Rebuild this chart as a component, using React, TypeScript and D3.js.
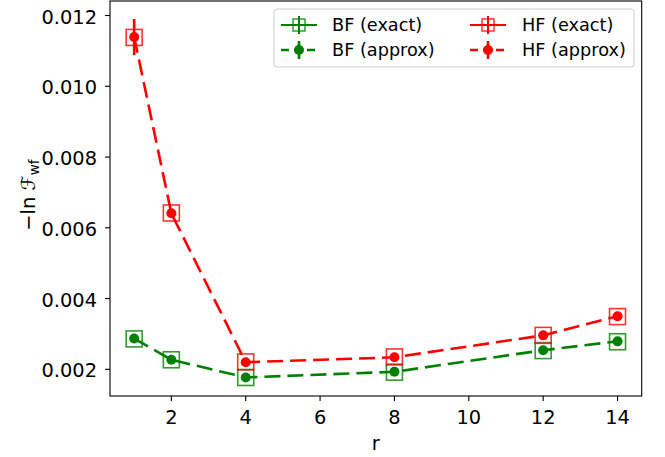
import React from "react";
import * as d3 from "d3";

const rValues = [1, 2, 4, 8, 12, 14];
const bfExact = [0.00286, 0.00227, 0.00177, 0.00192, 0.00253, 0.00278];
const bfExactErr = [0.00003, 0.00003, 0.00002, 0.00002, 0.00003, 0.00003];
const bfApprox = [0.00287, 0.00227, 0.00177, 0.00193, 0.00254, 0.00279];
const bfApproxErr = [0.00004, 0.00003, 0.00002, 0.00002, 0.00003, 0.00003];
const hfExact = [0.01138, 0.00642, 0.00221, 0.00235, 0.00296, 0.00349];
const hfExactErr = [0.00003, 0.00003, 0.00002, 0.00002, 0.00003, 0.00003];
const hfApprox = [0.01139, 0.00641, 0.0022, 0.00234, 0.00296, 0.0035];
const hfApproxErr = [0.00051, 0.00006, 0.00003, 0.00003, 0.00004, 0.00004];
const xTicks = [2, 4, 6, 8, 10, 12, 14];
const yTicks = [0.002, 0.004, 0.006, 0.008, 0.01, 0.012];
const legendLabels = ["BF (exact)", "BF (approx)", "HF (exact)", "HF (approx)"];

const W = 665;
const H = 457;
const left = 110;
const right = 641.7;
const top = 1;
const bottom = 396;
const GREEN = "#008000";
const RED = "#ff0000";
const FONT = "DejaVu Sans, sans-serif";

export default function App() {
  const x = d3.scaleLinear().domain([0.35, 14.65]).range([left, right]);
  const y = d3.scaleLinear().domain([0.001246, 0.01241]).range([bottom, top]);
  const line = d3
    .line<number>()
    .x((_, i) => x(rValues[i]))
    .y((d) => y(d));

  const dash = "16,7";
  const lw = 2.6;

  const errBars = (vals: number[], errs: number[], color: string) =>
    vals.map((v, i) => (
      <line
        key={i}
        x1={x(rValues[i])}
        x2={x(rValues[i])}
        y1={y(v - errs[i])}
        y2={y(v + errs[i])}
        stroke={color}
        strokeWidth={2.6}
      />
    ));

  const squares = (vals: number[], color: string) =>
    vals.map((v, i) => (
      <rect
        key={i}
        x={x(rValues[i]) - 8}
        y={y(v) - 8}
        width={16}
        height={16}
        fill="none"
        stroke={color}
        strokeOpacity={0.8}
        strokeWidth={1.6}
      />
    ));

  const dots = (vals: number[], color: string) =>
    vals.map((v, i) => (
      <circle key={i} cx={x(rValues[i])} cy={y(v)} r={5} fill={color} />
    ));

  // legend layout
  const lgX = 274;
  const lgY = 9;
  const lgW = 360;
  const lgH = 58;
  const rowY = [25, 50];
  const colHandle = [281, 470];
  const handleW = 36;
  const colText = [332, 522];

  const legendHandle = (kind: "exact" | "approx", color: string, hx: number, hy: number) => {
    const cx = hx + handleW / 2;
    if (kind === "exact") {
      return (
        <g>
          <line x1={hx} x2={hx + handleW} y1={hy} y2={hy} stroke={color} strokeWidth={2} />
          <line x1={cx} x2={cx} y1={hy - 9} y2={hy + 9} stroke={color} strokeWidth={2} />
          <rect x={cx - 6} y={hy - 6} width={12} height={12} fill="none" stroke={color} strokeOpacity={0.8} strokeWidth={1.5} />
        </g>
      );
    }
    return (
      <g>
        <line x1={hx} x2={hx + handleW} y1={hy} y2={hy} stroke={color} strokeWidth={2.6} strokeDasharray="8,5" />
        <line x1={cx} x2={cx} y1={hy - 9} y2={hy + 9} stroke={color} strokeWidth={2.6} />
        <circle cx={cx} cy={hy} r={5} fill={color} />
      </g>
    );
  };

  return (
    <svg
      width={W}
      height={H}
      style={{ position: "absolute", left: 0, top: 0, background: "white" }}
      fontFamily={FONT}
    >
      <rect x={0} y={0} width={W} height={H} fill="white" />

      {/* exact series: squares with error bars */}
      {errBars(bfExact, bfExactErr, GREEN)}
      {squares(bfExact, GREEN)}
      {errBars(hfExact, hfExactErr, RED)}
      {squares(hfExact, RED)}

      {/* approx series: dashed lines with dots */}
      <path d={line(bfApprox) || ""} fill="none" stroke={GREEN} strokeWidth={lw} strokeDasharray={dash} />
      {errBars(bfApprox, bfApproxErr, GREEN)}
      {dots(bfApprox, GREEN)}
      <path d={line(hfApprox) || ""} fill="none" stroke={RED} strokeWidth={lw} strokeDasharray={dash} />
      {errBars(hfApprox, hfApproxErr, RED)}
      {dots(hfApprox, RED)}

      {/* axes frame */}
      <rect x={left} y={top} width={right - left} height={bottom - top} fill="none" stroke="black" strokeWidth={1.1} />

      {/* x ticks */}
      {xTicks.map((t) => (
        <g key={t}>
          <line x1={x(t)} x2={x(t)} y1={bottom} y2={bottom + 5} stroke="black" strokeWidth={1.1} />
          <text x={x(t)} y={424} textAnchor="middle" fontSize={19.4} fill="black">
            {t}
          </text>
        </g>
      ))}
      {/* y ticks */}
      {yTicks.map((t) => (
        <g key={t}>
          <line x1={left - 5} x2={left} y1={y(t)} y2={y(t)} stroke="black" strokeWidth={1.1} />
          <text x={97} y={y(t) + 8} textAnchor="end" fontSize={19.4} fill="black">
            {d3.format(".3f")(t)}
          </text>
        </g>
      ))}

      {/* axis labels */}
      <text x={(left + right) / 2} y={450} textAnchor="middle" fontSize={19.4} fill="black">
        r
      </text>
      <text
        transform={`translate(35, 195) rotate(-90)`}
        textAnchor="middle"
        fontSize={19.4}
        fill="black"
      >
        <tspan>−ln </tspan>
        <tspan fontStyle="italic">ℱ</tspan>
        <tspan fontSize={13.6} dy={4}>wf</tspan>
      </text>

      {/* legend */}
      <rect x={lgX} y={lgY} width={lgW} height={lgH} rx={3} fill="white" fillOpacity={0.8} stroke="#cccccc" strokeWidth={1} />
      {legendHandle("exact", GREEN, colHandle[0], rowY[0])}
      {legendHandle("approx", GREEN, colHandle[0], rowY[1])}
      {legendHandle("exact", RED, colHandle[1], rowY[0])}
      {legendHandle("approx", RED, colHandle[1], rowY[1])}
      <text x={colText[0]} y={rowY[0] + 6} fontSize={17.7} fill="black">{legendLabels[0]}</text>
      <text x={colText[0]} y={rowY[1] + 6} fontSize={17.7} fill="black">{legendLabels[1]}</text>
      <text x={colText[1]} y={rowY[0] + 6} fontSize={17.7} fill="black">{legendLabels[2]}</text>
      <text x={colText[1]} y={rowY[1] + 6} fontSize={17.7} fill="black">{legendLabels[3]}</text>
    </svg>
  );
}
